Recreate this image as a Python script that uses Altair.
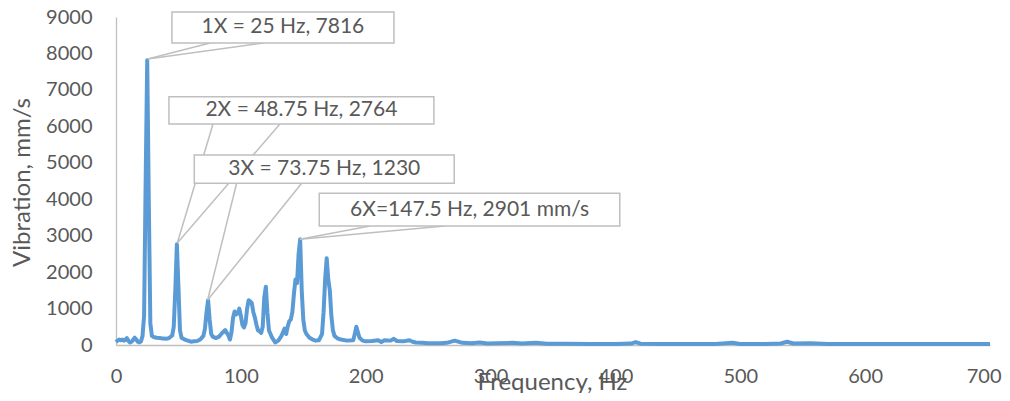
import altair as alt
import pandas as pd

# Spectrum (frequency in Hz, vibration in mm/s)
freq = [0, 1.25, 2.5, 3.75, 5, 6.25, 7.5, 8.75, 10, 11.25, 12.5, 13.75, 15, 16.25, 17.5, 18.75,
        20, 21.25, 22.5, 23.75, 25, 26.25, 27.5, 28.75, 30, 32.5, 35, 37.5, 40, 42.5, 45, 46.25,
        47.5, 48.75, 50, 51.25, 52.5, 55, 57.5, 60, 62.5, 65, 67.5, 70, 71.25, 72.5, 73.75, 75,
        76.25, 77.5, 80, 82.5, 85, 87.5, 90, 91.25, 92.5, 93.75, 95, 96.25, 97.5, 98.75, 100,
        101.25, 102.5, 103.75, 105, 106.25, 107.5, 108.75, 110, 111.25, 112.5, 113.75, 115,
        116.25, 117.5, 118.75, 120, 121.25, 122.5, 123.75, 125, 127.5, 130, 132.5, 133.75, 135,
        136.25, 137.5, 138.75, 140, 141.25, 142.5, 143.75, 145, 146.25, 147.5, 148.75, 150,
        151.25, 152.5, 155, 157.5, 160, 162.5, 165, 166.25, 167.5, 168.75, 170, 171.25, 172.5,
        173.75, 175, 177.5, 180, 185, 190, 191.25, 192.5, 193.75, 195, 197.5, 200, 205, 210,
        212.5, 215, 220, 222.5, 225, 230, 235, 237.5, 240, 245, 250, 260, 265, 271.25, 277.5,
        285, 291.25, 297.5, 305, 317.5, 325, 336.25, 345, 360, 380, 400, 412.5, 416.25, 420,
        440, 460, 480, 493.75, 500, 520, 532.5, 537.5, 542.5, 556.25, 570, 600, 630, 660, 700]
vib = [80, 120, 150, 130, 150, 120, 140, 190, 110, 70, 90, 140, 200, 150, 90, 70,
       100, 250, 800, 4500, 7816, 4000, 600, 250, 220, 200, 190, 180, 170, 190, 260, 500,
       1500, 2764, 1600, 400, 200, 150, 120, 90, 100, 110, 150, 250, 450, 900, 1230, 700,
       300, 230, 190, 230, 330, 410, 260, 150, 350, 750, 920, 840, 870, 1000, 800,
       550, 480, 600, 1000, 1230, 1200, 1150, 900, 750, 550, 400, 380,
       330, 500, 1300, 1600, 900, 400, 300, 200, 70, 120, 250, 350, 450,
       300, 500, 650, 700, 900, 1400, 1800, 1700, 2500, 2901, 1500, 700,
       400, 300, 200, 150, 120, 130, 300, 900, 1800, 2380, 1800, 1500, 800,
       400, 250, 180, 150, 120, 130, 300, 500, 350, 200, 120, 100, 110, 130,
       80, 130, 120, 170, 110, 100, 130, 90, 70, 60, 50, 45, 60, 120, 60,
       45, 70, 40, 45, 60, 40, 60, 35, 35, 30, 30, 40, 80, 35,
       30, 30, 30, 60, 30, 30, 40, 90, 40, 50, 30, 25, 25, 25, 25]

# Callout boxes (data units)
box_labels = ["1X = 25 Hz, 7816", "2X = 48.75 Hz, 2764", "3X = 73.75 Hz, 1230",
              "6X=147.5 Hz, 2901 mm/s"]
box_f0 = [44.8, 42.4, 62.7, 162.8]
box_f1 = [222.6, 254.6, 270.9, 403.5]
box_v0 = [8288, 6065, 4437, 3266]
box_v1 = [9138, 6814, 5214, 4163]

# Callout leader lines (data units)
lead_f0 = [75.3, 117.9, 77.7, 131.3, 96.6, 148.7, 203.4, 263.4]
lead_v0 = [8288, 8288, 6065, 6065, 4437, 4437, 3266, 3266]
lead_f1 = [25.4, 25.4, 49.1, 49.1, 73.4, 73.4, 147.3, 147.3]
lead_v1 = [7850, 7850, 2800, 2800, 1235, 1235, 2900, 2900]

x_ticks = [0, 100, 200, 300, 400, 500, 600, 700]
y_ticks = [0, 1000, 2000, 3000, 4000, 5000, 6000, 7000, 8000, 9000]

FONT = "Lato"
GREY = "#595959"
LINEGREY = "#BFBFBF"

spec = pd.DataFrame({"f": freq, "v": vib})
boxes = pd.DataFrame({"label": box_labels, "f0": box_f0, "f1": box_f1,
                      "v0": box_v0, "v1": box_v1})
boxes["fc"] = (boxes["f0"] + boxes["f1"]) / 2
boxes["vc"] = (boxes["v0"] + boxes["v1"]) / 2
leads = pd.DataFrame({"f0": lead_f0, "v0": lead_v0, "f1": lead_f1, "v1": lead_v1})

xscale = alt.Scale(domain=[0, 700], nice=False, zero=False)
yscale = alt.Scale(domain=[0, 9000], nice=False)

xaxis = alt.Axis(values=x_ticks, format="d", title="Frequency, Hz", grid=False,
                 ticks=False, labelOverlap=False, labelFlush=False,
                 labelAlign={"condition": {"test": "datum.value == 700", "value": "right"},
                             "value": "center"},
                 labelOffset={"condition": {"test": "datum.value == 700", "value": 11},
                              "value": 0},
                 domainColor=LINEGREY, domainWidth=1.3,
                 labelFont=FONT, labelFontSize=20, labelColor=GREY, labelPadding=21,
                 titleFont=FONT, titleFontSize=24, titleColor=GREY,
                 titleFontWeight="normal", titleX=436, titleY=44,
                 titleAlign="center", titleBaseline="alphabetic")
yaxis = alt.Axis(values=y_ticks, format="d", title="Vibration, mm/s", grid=False,
                 ticks=False, labelOverlap=False, labelFlush=False,
                 domainColor=LINEGREY, domainWidth=1.3,
                 labelFont=FONT, labelFontSize=20, labelColor=GREY, labelPadding=24,
                 titleFont=FONT, titleFontSize=24, titleColor=GREY,
                 titleFontWeight="normal", titleAngle=-90, titleX=-87, titleY=165,
                 titleAlign="center", titleBaseline="alphabetic")

line = alt.Chart(spec).mark_line(color="#5B9BD5", strokeWidth=4, strokeJoin="round").encode(
    x=alt.X("f:Q", scale=xscale, axis=xaxis, title="Frequency, Hz"),
    y=alt.Y("v:Q", scale=yscale, axis=yaxis, title="Vibration, mm/s"),
)

leaders = alt.Chart(leads).mark_rule(color=LINEGREY, strokeWidth=1.5).encode(
    x=alt.X("f0:Q", scale=xscale, axis=xaxis, title="Frequency, Hz"), x2="f1:Q",
    y=alt.Y("v0:Q", scale=yscale, axis=yaxis, title="Vibration, mm/s"), y2="v1:Q",
)

rects = alt.Chart(boxes).mark_rect(fill="white", stroke=LINEGREY, strokeWidth=1.5).encode(
    x=alt.X("f0:Q", scale=xscale, axis=xaxis, title="Frequency, Hz"), x2="f1:Q",
    y=alt.Y("v0:Q", scale=yscale, axis=yaxis, title="Vibration, mm/s"), y2="v1:Q",
)

texts = alt.Chart(boxes).mark_text(font=FONT, fontSize=21, color=GREY,
                                   align="center", baseline="middle").encode(
    x=alt.X("fc:Q", scale=xscale, axis=xaxis, title="Frequency, Hz"),
    y=alt.Y("vc:Q", scale=yscale, axis=yaxis, title="Vibration, mm/s"),
    text="label:N",
)

chart = alt.layer(line, leaders, rects, texts).properties(
    width=874, height=328,
    autosize=alt.AutoSizeParams(type="none"),
    padding={"left": 108, "top": 9, "right": 12, "bottom": 48},
    background="white",
).configure_view(stroke=None)

chart.save("out.html", embed_options={"renderer": "svg", "actions": False})
